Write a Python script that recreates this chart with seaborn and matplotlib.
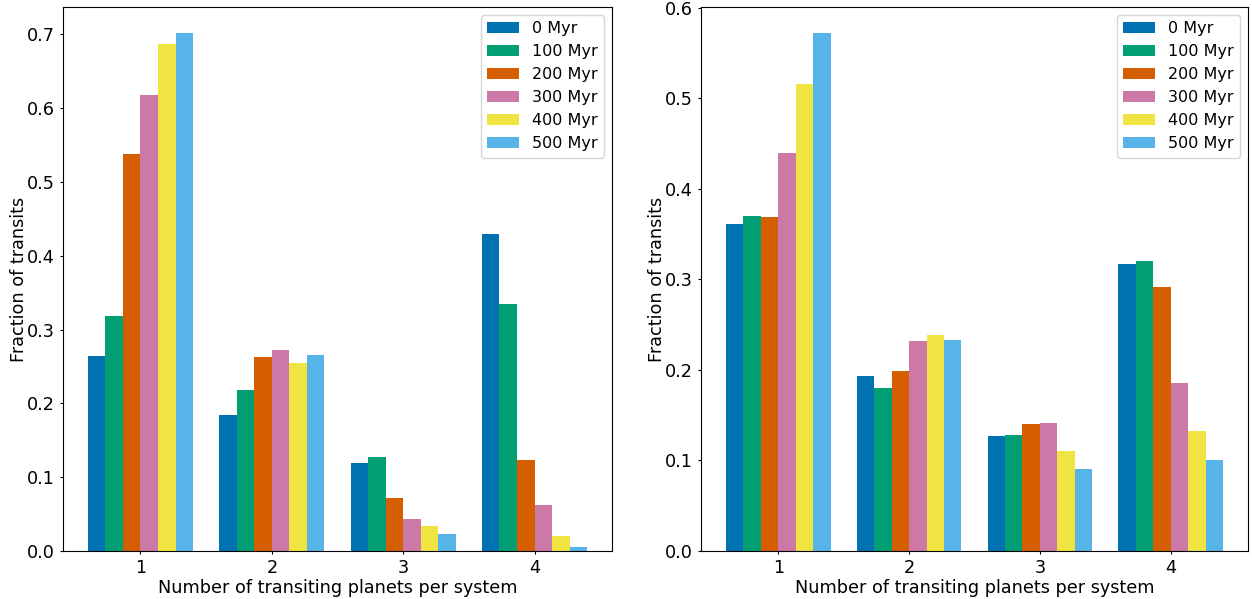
import matplotlib
matplotlib.use("Agg")
import matplotlib.pyplot as plt
import seaborn as sns
import pandas as pd

# Number of transiting planets per system (x categories)
n_transiting = ["1", "2", "3", "4"]
# Ages of the simulated systems (hue)
ages = ["0 Myr", "100 Myr", "200 Myr", "300 Myr", "400 Myr", "500 Myr"]

# Left panel: fraction of transits for each age, per category 1..4
left_0 = [0.264, 0.184, 0.119, 0.430]
left_100 = [0.319, 0.218, 0.127, 0.334]
left_200 = [0.538, 0.263, 0.072, 0.123]
left_300 = [0.618, 0.273, 0.044, 0.062]
left_400 = [0.687, 0.255, 0.034, 0.020]
left_500 = [0.702, 0.266, 0.023, 0.005]

# Right panel
right_0 = [0.361, 0.193, 0.127, 0.317]
right_100 = [0.370, 0.180, 0.128, 0.320]
right_200 = [0.369, 0.199, 0.140, 0.291]
right_300 = [0.439, 0.232, 0.141, 0.186]
right_400 = [0.516, 0.238, 0.110, 0.132]
right_500 = [0.572, 0.233, 0.090, 0.100]

# Okabe-Ito colour-blind-safe colours, one per age
colors = ["#0072B2", "#009E73", "#D55E00", "#CC79A7", "#F0E442", "#56B4E9"]


def to_long(series):
    rows = []
    for age, vals in zip(ages, series):
        for n, v in zip(n_transiting, vals):
            rows.append({"n": n, "age": age, "frac": v})
    return pd.DataFrame(rows)


left_df = to_long([left_0, left_100, left_200, left_300, left_400, left_500])
right_df = to_long([right_0, right_100, right_200, right_300, right_400, right_500])

fig = plt.figure(figsize=(12.52, 5.99), dpi=100)
W, H = 1252, 599
ax_l = fig.add_axes([63 / W, 48 / H, (612 - 63) / W, (551 - 7) / H])
ax_r = fig.add_axes([701 / W, 48 / H, (1248 - 701) / W, (551 - 7) / H])

for ax, df in [(ax_l, left_df), (ax_r, right_df)]:
    sns.barplot(data=df, x="n", y="frac", hue="age", order=n_transiting,
                hue_order=ages, palette=colors, saturation=1, width=0.8,
                linewidth=0, errorbar=None, ax=ax)
    ax.set_xlim(-0.59, 3.59)
    ymax = df["frac"].max() * 1.05
    ax.set_ylim(0, ymax)
    ax.set_xlabel("Number of transiting planets per system", fontsize=12.7,
                  labelpad=1.5)
    ax.set_ylabel("Fraction of transits", fontsize=12.7, labelpad=-1)
    ax.tick_params(labelsize=12.7, length=2.4, pad=3.5)
    ax.legend(loc="upper right", fontsize=11.5, title=None)

fig.savefig("out.png", dpi=100)
